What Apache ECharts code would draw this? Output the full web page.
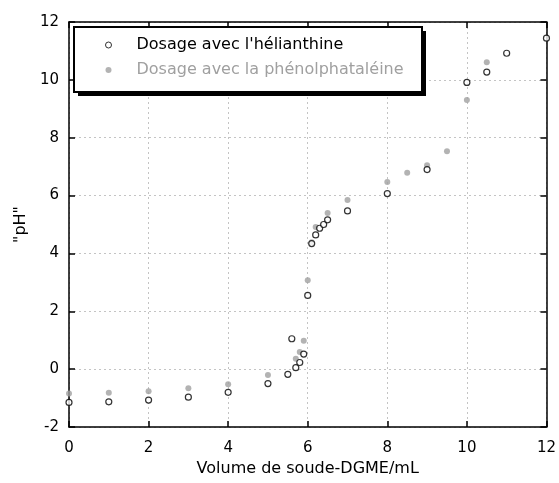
<!DOCTYPE html>
<html>
<head>
<meta charset="utf-8">
<script src="https://cdn.jsdelivr.net/npm/echarts@6/dist/echarts.min.js"></script>
<style>html,body{margin:0;padding:0;background:#fff}#c{width:559px;height:483px}</style>
</head>
<body>
<div id="c"></div>
<script>
var seriesNames = ["Dosage avec l'hélianthine", "Dosage avec la phénolphataléine"];
var helianX = [0, 1, 2, 3, 4, 5, 5.5, 5.6, 5.7, 5.8, 5.9, 6, 6.1, 6.2, 6.3, 6.4, 6.5, 7, 8, 9, 10, 10.5, 11, 12];
var helianY = [-1.15, -1.13, -1.07, -0.97, -0.8, -0.5, -0.18, 1.05, 0.05, 0.23, 0.52, 2.55, 4.34, 4.64, 4.87, 5.0, 5.16, 5.47, 6.07, 6.9, 9.91, 10.27, 10.92, 11.44];
var phenolX = [0, 1, 2, 3, 4, 5, 5.7, 5.8, 5.9, 6, 6.1, 6.2, 6.5, 7, 8, 8.5, 9, 9.5, 10, 10.5];
var phenolY = [-0.84, -0.82, -0.76, -0.66, -0.52, -0.2, 0.36, 0.59, 0.98, 3.07, 4.39, 4.91, 5.4, 5.85, 6.47, 6.79, 7.05, 7.53, 9.3, 10.61];
var xTicks = {min: 0, max: 12, interval: 2};
var yTicks = {min: -2, max: 12, interval: 2};
var xName = 'Volume de soude-DGME/mL';
var yName = '"pH"';

function pairs(xs, ys) { return xs.map(function (x, i) { return [x, ys[i]]; }); }

var FONT = 'DejaVu Sans';
var grid = {left: 69, right: 11, top: 22, bottom: 56};
function mainAxis(t, name, pos, nameGap, labelMargin) {
  return {
    type: 'value', min: t.min, max: t.max, interval: t.interval, position: pos,
    name: name, nameLocation: 'middle', nameGap: nameGap,
    nameTextStyle: {fontFamily: FONT, fontSize: 16, color: '#000'},
    axisLine: {show: true, onZero: false, lineStyle: {color: '#000', width: 1.5}},
    axisTick: {show: true, inside: true, length: 6, lineStyle: {color: '#000', width: 1.5}},
    axisLabel: {fontFamily: FONT, fontSize: 15, color: '#000', margin: labelMargin},
    splitLine: {show: true, lineStyle: {color: '#c4c4c4', width: 1, type: [2, 3]}}
  };
}
function sideAxis(t, pos) {
  return {
    type: 'value', min: t.min, max: t.max, interval: t.interval, position: pos,
    axisLine: {show: true, onZero: false, lineStyle: {color: '#000', width: 1.5}},
    axisTick: {show: true, inside: true, length: 6, lineStyle: {color: '#000', width: 1.5}},
    axisLabel: {show: false}, splitLine: {show: false}
  };
}

var legendBox = {left: 74, top: 27, width: 348, height: 65, shadow: 4};

var chart = echarts.init(document.getElementById('c'), null, {renderer: 'canvas'});
chart.setOption({
  animation: false,
  backgroundColor: '#fff',
  grid: grid,
  xAxis: [mainAxis(xTicks, xName, 'bottom', 34, 14), sideAxis(xTicks, 'top')],
  yAxis: [mainAxis(yTicks, yName, 'left', 39, 10), sideAxis(yTicks, 'right')],
  graphic: [
    {type: 'rect', z: 3, shape: {x: legendBox.left + legendBox.shadow, y: legendBox.top + legendBox.shadow, width: legendBox.width, height: legendBox.height},
     style: {fill: '#000'}},
    {type: 'rect', z: 3, shape: {x: legendBox.left, y: legendBox.top, width: legendBox.width, height: legendBox.height},
     style: {fill: '#fff', stroke: '#000', lineWidth: 2}}
  ],
  legend: {
    orient: 'vertical', left: legendBox.left, top: legendBox.top, z: 5,
    padding: [9, 9, 12, 31], itemGap: 7, itemWidth: 6, itemHeight: 6,
    textStyle: {fontFamily: FONT, fontSize: 16, lineHeight: 18, padding: [0, 0, 0, 20]},
    data: [
      {name: seriesNames[0], textStyle: {color: '#000'}, itemStyle: {borderWidth: 1}},
      {name: seriesNames[1], textStyle: {color: '#a0a0a0'}}
    ]
  },
  series: [
    {name: seriesNames[1], type: 'scatter', symbol: 'circle', symbolSize: 6,
     itemStyle: {color: '#a0a0a0', borderWidth: 0}, data: pairs(phenolX, phenolY)},
    {name: seriesNames[0], type: 'scatter', symbol: 'circle', symbolSize: 6,
     itemStyle: {color: '#fff', borderColor: '#000', borderWidth: 1.2}, data: pairs(helianX, helianY)}
  ]
});
</script>
</body>
</html>
